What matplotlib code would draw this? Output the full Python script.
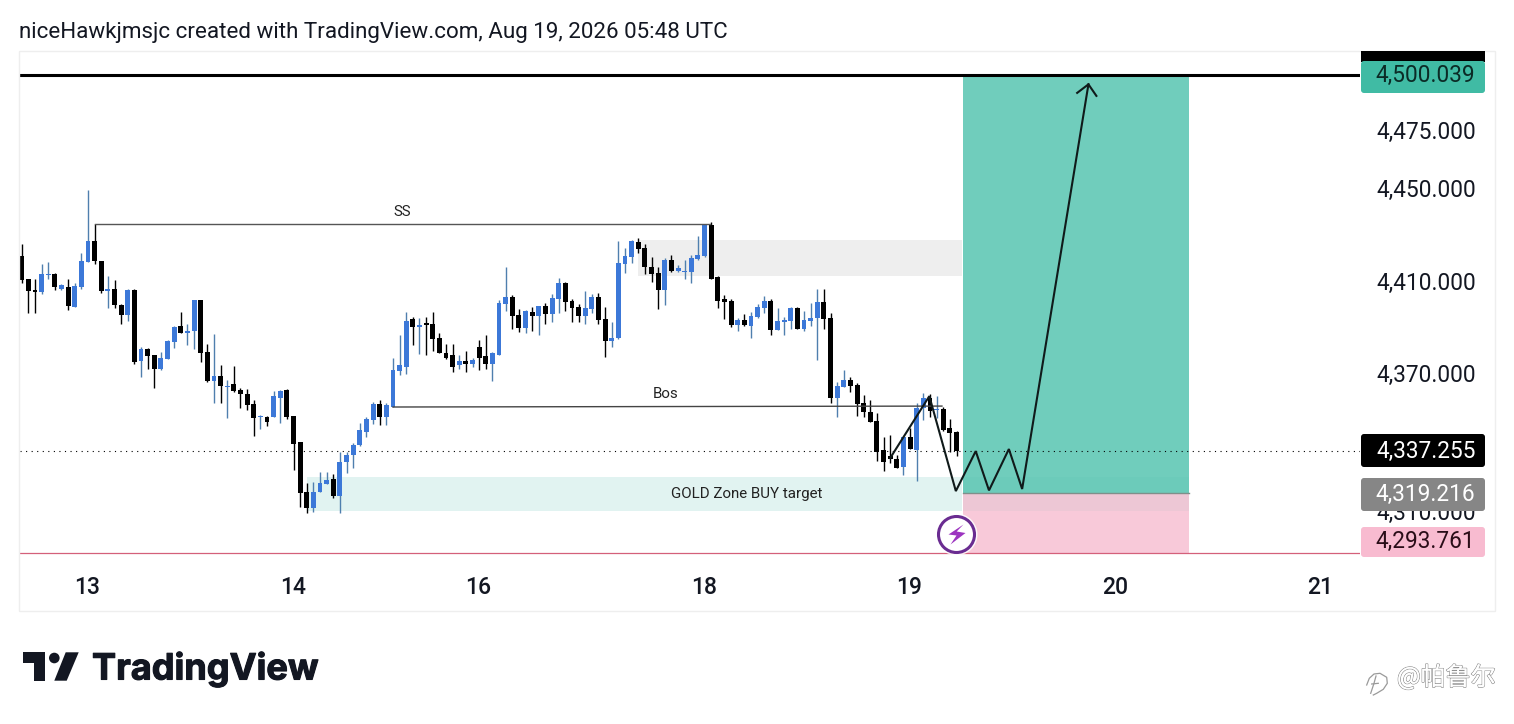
import matplotlib
matplotlib.use("Agg")
import matplotlib.pyplot as plt
from matplotlib.patches import Rectangle, Circle, Polygon, FancyBboxPatch
from matplotlib.transforms import ScaledTranslation
import matplotlib.patheffects as pe

# ---------- data ----------
opens = [4421.6,4411.8,4406.9,4406.0,4413.4,4413.8,4407.6,4408.2,4399.7,4408.3,
         4419.1,4428.1,4419.4,4406.6,4407.3,4400.4,4396.1,4406.9,4376.1,4381.3,
         4378.7,4372.7,4377.0,4384.5,4391.3,4388.4,4389.3,4402.5,4380.0,4367.6,
         4369.9,4365.0,4366.2,4363.6,4362.1,4357.5,4351.9,4351.9,4351.9,4360.1,
         4363.6,4352.3,4341.1,4319.3,4312.5,4319.6,4322.9,4325.1,4317.7,4332.6,
         4335.7,4339.7,4345.6,4350.7,4357.5,4352.1,4356.5,4371.9,4373.8,4394.4,
         4390.9,4392.5,4392.2,4386.2,4379.6,4378.7,4374.5,4376.1,4374.9,4382.3,
         4378.3,4375.1,4379.0,4400.9,4404.1,4396.0,4390.5,4397.3,4395.9,4400.0,
         4396.7,4403.2,4410.0,4402.1,4399.5,4395.7,4398.7,4403.8,4394.4,4385.0,
         4386.2,4418.2,4421.4,4427.7,4425.2,4416.9,4414.2,4407.0,4420.0,4415.3,
         4414.9,4414.8,4420.2,4421.7,4435.1,4412.7,4403.1,4402.4,4391.8,4393.8,
         4391.5,4395.4,4399.2,4402.2,4389.7,4393.3,4393.7,4399.0,4390.1,4393.7,
         4394.7,4401.6,4394.8,4360.4,4365.1,4367.9,4365.8,4357.9,4354.3,4350.1,
         4337.6,4335.3,4333.7,4330.5,4343.2,4337.7,4355.7,4360.2,4354.9,4355.3,4347.1,4345.5]
closes = [4411.2,4406.6,4406.2,4413.8,4413.8,4408.3,4409.0,4399.9,4408.6,4419.3,
          4428.1,4419.6,4406.6,4407.3,4400.4,4396.1,4406.9,4375.9,4381.3,4378.5,
          4372.7,4377.4,4384.8,4390.9,4388.4,4389.4,4402.5,4379.7,4367.5,4369.9,
          4365.5,4365.6,4363.3,4362.0,4357.2,4351.6,4352.3,4349.9,4361.0,4363.4,
          4351.9,4340.4,4319.1,4312.4,4319.7,4323.6,4324.9,4317.7,4332.7,4335.5,
          4339.7,4346.4,4351.1,4357.6,4352.1,4357.2,4372.3,4374.5,4393.5,4391.1,
          4391.7,4392.0,4385.9,4379.8,4377.5,4373.8,4376.2,4375.1,4376.7,4377.7,
          4375.1,4379.6,4401.3,4403.8,4395.9,4390.5,4397.9,4395.9,4399.9,4396.6,
          4403.4,4409.9,4401.9,4399.2,4395.7,4399.0,4403.8,4394.0,4385.0,4386.0,
          4418.5,4421.7,4428.3,4424.9,4417.1,4413.9,4407.0,4420.0,4415.2,4416.3,
          4415.2,4420.8,4422.1,4435.5,4411.7,4402.4,4401.9,4391.8,4393.8,4391.8,
          4395.6,4399.6,4402.1,4389.7,4393.4,4393.8,4399.0,4390.2,4393.8,4394.7,
          4401.6,4394.6,4360.4,4365.3,4367.9,4365.6,4357.8,4354.3,4350.0,4337.0,
          4332.7,4333.7,4330.1,4343.2,4338.1,4355.7,4360.1,4354.7,4355.4,4346.4,4345.2,4337.4]
highs = [4426.8,4411.8,4411.9,4418.4,4419.1,4414.4,4409.5,4411.9,4410.1,4422.8,
         4450.2,4435.7,4419.4,4412.9,4411.2,4400.7,4407.6,4407.6,4382.1,4381.9,
         4379.0,4379.9,4385.2,4391.3,4397.4,4392.2,4402.5,4402.5,4383.5,4387.8,
         4374.4,4367.9,4374.0,4364.7,4363.9,4359.3,4352.8,4352.3,4363.3,4363.6,
         4364.3,4352.6,4341.2,4323.2,4323.8,4328.1,4328.1,4327.1,4336.8,4336.9,
         4340.6,4349.2,4351.8,4358.6,4359.3,4357.9,4377.7,4387.4,4397.4,4395.1,
         4395.0,4395.1,4397.4,4388.2,4383.4,4383.4,4378.8,4380.6,4377.4,4385.3,
         4387.4,4380.0,4402.6,4417.1,4404.7,4398.6,4398.3,4399.8,4400.0,4401.5,
         4405.2,4412.0,4410.4,4402.9,4400.8,4406.5,4405.2,4405.5,4399.5,4393.3,
         4428.2,4425.0,4428.6,4429.3,4426.7,4421.4,4416.8,4421.0,4422.1,4417.8,
         4420.0,4422.1,4430.3,4435.5,4436.5,4413.0,4404.8,4402.9,4394.7,4396.4,
         4397.6,4400.8,4404.4,4402.9,4399.2,4395.4,4399.5,4399.8,4397.9,4401.2,
         4407.3,4407.3,4396.9,4367.3,4372.3,4369.2,4366.6,4361.4,4359.4,4353.6,
         4343.2,4344.2,4335.5,4343.5,4347.1,4357.9,4362.2,4361.9,4361.1,4356.5,4351.0,4345.8]
lows = [4410.1,4397.1,4397.1,4405.4,4411.9,4406.9,4406.9,4398.5,4399.7,4407.6,
        4419.1,4418.4,4405.7,4399.2,4399.2,4392.2,4393.6,4375.1,4369.4,4372.7,
        4364.6,4372.5,4376.9,4381.9,4388.4,4383.1,4381.3,4375.7,4367.2,4358.1,
        4358.1,4351.5,4362.9,4355.9,4354.9,4343.8,4346.9,4348.0,4351.8,4349.5,
        4350.9,4329.0,4312.8,4310.5,4310.9,4319.6,4322.9,4317.1,4310.5,4327.6,
        4329.8,4339.6,4343.2,4349.0,4348.5,4348.5,4356.5,4370.2,4370.6,4383.2,
        4379.3,4378.8,4380.6,4379.8,4377.0,4371.6,4372.8,4371.5,4373.8,4372.3,
        4372.8,4367.6,4378.8,4398.0,4390.2,4388.9,4388.5,4389.4,4387.6,4392.2,
        4393.3,4396.9,4398.0,4393.3,4393.3,4392.2,4396.9,4392.2,4378.1,4382.4,
        4385.6,4414.2,4418.5,4423.1,4413.9,4410.6,4398.7,4400.5,4414.9,4414.9,
        4411.7,4410.1,4420.0,4421.4,4411.7,4399.3,4394.6,4391.1,4389.4,4391.5,
        4386.3,4394.7,4396.9,4387.5,4389.7,4387.5,4389.9,4390.1,4389.4,4391.5,
        4376.7,4390.2,4358.2,4352.0,4364.8,4363.0,4352.6,4352.1,4349.7,4333.1,
        4328.8,4332.2,4329.8,4326.9,4338.0,4324.4,4350.7,4351.8,4351.4,4346.1,4337.0,4335.1]

xtick_pos = [9.85, 40.9, 68.8, 102.9, 133.8, 164.9, 195.8]
xtick_labels = ["13", "14", "16", "18", "19", "20", "21"]
ytick_vals = [4475, 4450, 4410, 4370, 4310]

target_price = 4500.039
last_price = 4337.255
entry_price = 4319.216
stop_price = 4293.761
stop_level = 4293.0
pos_left, pos_right = 142, 176.1

ss_x, ss_y = [11, 103.8], [4435.7, 4435.7]
bos_x, bos_y = [56, 138.8], [4356.3, 4356.7]
supply_x, supply_y = (93, 141.8), (4413.0, 4428.6)
zone_x, zone_y = (43, 141.8), (4311.3, 4326.0)
path_x = [131.0, 136.9, 140.9, 143.9, 145.9, 148.9, 150.9, 160.9]
path_y = [4334.2, 4361.0, 4319.9, 4337.2, 4320.2, 4338.1, 4320.8, 4496.0]
head_x = [159.2, 160.9, 162.1]
head_y = [4492.3, 4496.0, 4491.0]

# ---------- style ----------
BLUE = "#3c78d8"
BLUE_WICK = "#4f7fae"
BLACK = "#000000"
W, H = 1514, 724
L_, R_, T_, B_ = 20, 1360, 52, 571
plt.rcParams["font.family"] = "Roboto"

fig = plt.figure(figsize=(W / 100, H / 100), dpi=100, facecolor="white")
ax = fig.add_axes([L_ / W, 1 - B_ / H, (R_ - L_) / W, (B_ - T_) / H])
ax.patch.set_alpha(0)
ax.set_xlim(-0.256, 201.86)
ax.set_ylim(4285.3, 4510.0)
for s in ax.spines.values():
    s.set_visible(False)

# zones
ax.add_patch(Rectangle((supply_x[0], supply_y[0]), supply_x[1] - supply_x[0], supply_y[1] - supply_y[0],
                       fc="#eeeeee", ec="none", zorder=1))
ax.add_patch(Rectangle((zone_x[0], zone_y[0]), zone_x[1] - zone_x[0], zone_y[1] - zone_y[0],
                       fc="#e1f3f1", ec="none", zorder=1))
ax.add_patch(Rectangle((pos_left, entry_price), pos_right - pos_left, target_price - entry_price,
                       fc="#70cdbc", ec="none", zorder=1))
ax.add_patch(Rectangle((pos_left, stop_level), pos_right - pos_left, entry_price - stop_level,
                       fc="#f8c9d9", ec="none", zorder=1))
ax.add_patch(Rectangle((pos_left, zone_y[0]), pos_right - pos_left, zone_y[1] - zone_y[0],
                       fc="#26a69a", ec="none", alpha=0.05, zorder=1.2))
ax.plot([pos_left, pos_right], [entry_price, entry_price], color="#7f8f8a", lw=1.0, zorder=1.5)

# level lines
ax.axhline(target_price, color="black", lw=2.2, zorder=2)
ax.axhline(stop_level, color="#d4607a", lw=0.9, zorder=2)
ax.axhline(last_price, color="black", lw=0.8, ls=(0, (1, 4)), zorder=2)

# candles
for i, (o, c, h, l) in enumerate(zip(opens, closes, highs, lows)):
    up = c >= o
    ax.vlines(i, l, h, color=BLUE_WICK if up else BLACK, lw=1.0, zorder=3)
    ax.bar(i, abs(c - o), bottom=min(o, c), width=0.74, color=BLUE if up else BLACK, lw=0, zorder=4)

# drawings
ax.plot(ss_x, ss_y, color="#555555", lw=1.0, zorder=5)
ax.plot(bos_x, bos_y, color="#444444", lw=1.0, zorder=5)
ax.text(57.4, 4440.8, "SS", fontsize=10.9, ha="center", va="center", color="#222222", zorder=6)
ax.text(97.2, 4361.9, "Bos", fontsize=10.9, ha="center", va="center", color="#222222", zorder=6)
ax.text(109.3, 4318.6, "GOLD Zone BUY target", fontsize=10.9, ha="center", va="center", color="#222222", zorder=6)
ax.plot(path_x, path_y, color="#101a1a", lw=1.5, zorder=6, solid_joinstyle="miter")
ax.plot(head_x, head_y, color="#101a1a", lw=1.5, zorder=6, solid_joinstyle="miter")

# axes
ax.set_xticks(xtick_pos)
ax.set_xticklabels(xtick_labels, fontsize=16.5, color="#131722", fontweight="medium")
ax.yaxis.tick_right()
ax.set_yticks(ytick_vals)
ax.set_yticklabels([f"{v:,.3f}" for v in ytick_vals], fontsize=16.3, color="#131722")
ax.tick_params(axis="x", length=0, pad=3.5)
ax.tick_params(axis="y", length=0, pad=12)
for lab in ax.get_yticklabels():
    lab.set_transform(lab.get_transform() + ScaledTranslation(0, 2.5 / 100, fig.dpi_scale_trans))

# ---------- overlay in pixel space: frame, price labels, logo, marks ----------
ov = fig.add_axes([0, 0, 1, 1], zorder=10)
ov.patch.set_alpha(0)
ov.set_xlim(0, W)
ov.set_ylim(H, 0)
ov.axis("off")

ov.add_patch(Rectangle((19, 51), 1476, 560, fc="none", ec="#eeeeee", lw=1))
ov.text(19, 32.5, "niceHawkjmsjc created with TradingView.com, Aug 19, 2026 05:48 UTC",
        fontsize=16.12, color="#131722", va="center", ha="left")

def price_box(y0, y1, ty, face, text, tcolor):
    ov.add_patch(FancyBboxPatch((1361, y0), 124, y1 - y0, boxstyle="round,pad=0,rounding_size=3",
                                fc=face, ec="none"))
    ov.text(1475.5, ty, text, fontsize=16.3, color=tcolor, ha="right", va="center")

ov.add_patch(Rectangle((1361, 51), 124, 11, fc="black", ec="none"))
price_box(61, 93, 75.5, "#40bba4", f"{target_price:,.3f}", "#0b2b26")
price_box(434, 467, 451.5, "#000000", f"{last_price:,.3f}", "white")
price_box(478, 511, 494.5, "#868686", f"{entry_price:,.3f}", "white")
price_box(527, 557, 541.5, "#f8bbd0", f"{stop_price:,.3f}", "#2a0d18")

# lightning badge
ov.add_patch(Circle((956.5, 534.5), 21, fc="white", ec="none", alpha=0.85))
ov.add_patch(Circle((956.5, 534.5), 18, fc="white", ec="#6a2c91", lw=2.2))
ov.add_patch(Polygon([(963.5, 524.5), (948.5, 534.5), (956.5, 535.5), (950.5, 544.5), (965.5, 533), (956.7, 531.5)],
                     closed=True, fc="#9c34c0", ec="none"))

# TradingView logo
ov.add_patch(Polygon([(22.7, 652.3), (45, 652.3), (45, 680.7), (33.7, 680.7), (33.7, 663.3), (22.7, 663.3)],
                     closed=True, fc="#131722", ec="none"))
ov.add_patch(Circle((54.3, 658), 5.3, fc="#131722", ec="none"))
ov.add_patch(Polygon([(65.7, 652.3), (78.7, 652.3), (66.7, 680.7), (54.3, 680.7)], closed=True, fc="#131722", ec="none"))
ov.text(92, 669, "TradingView", fontsize=26, fontfamily="Inter", fontweight="bold", color="#131722",
        ha="left", va="center", path_effects=[pe.withStroke(linewidth=0.8, foreground="#131722")])

# watermark
ov.text(1397, 678, "@帕鲁尔", fontsize=18, fontfamily=["Noto Sans CJK SC", "DejaVu Sans"], color="white",
        ha="left", va="center", path_effects=[pe.withStroke(linewidth=1.0, foreground="#8a8a8a"), pe.Normal()])
ov.plot([1366.7, 1369.3, 1374, 1380, 1386.7, 1387.3, 1383.3, 1376.7, 1373.3],
        [685, 678.3, 674, 673.3, 677.3, 683.3, 689.3, 693.3, 695], color="#9a9a9a", lw=0.9)
ov.plot([1370.7, 1374, 1376], [693.3, 683.3, 676], color="#9a9a9a", lw=0.9)
ov.plot([1371.7, 1378.3], [684, 683.3], color="#9a9a9a", lw=0.9)

fig.savefig("out.png", dpi=100, facecolor="white")
